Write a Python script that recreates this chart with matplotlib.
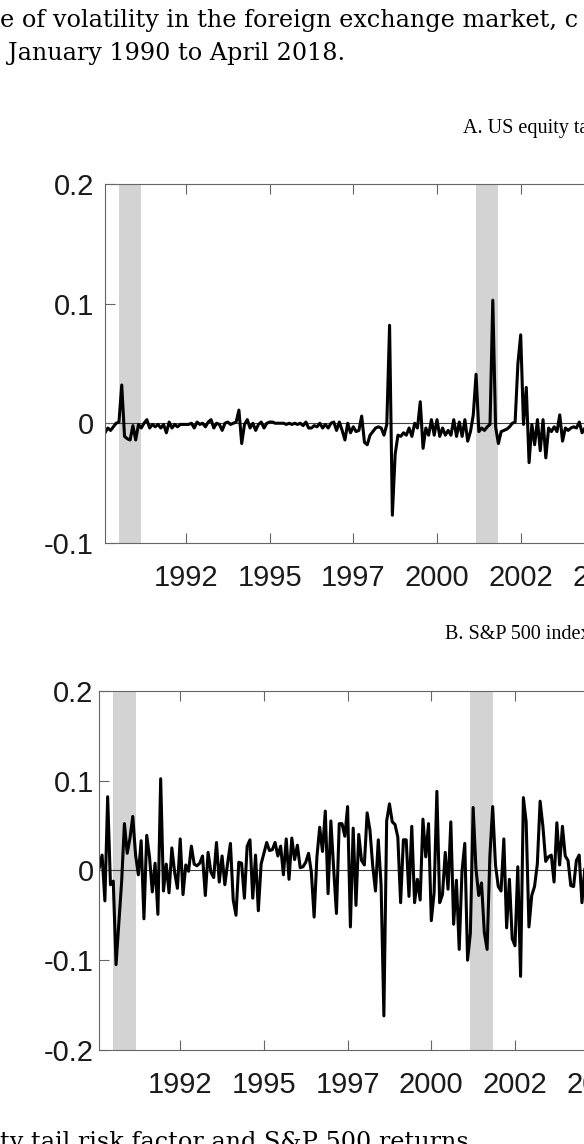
import numpy as np
import matplotlib.pyplot as plt

# monthly values, Feb 1990 onwards (only the part that shows in the crop)
tail_risk = [
    -0.008, -0.004, -0.006, -0.003, 0.000, 0.001, 0.032, -0.011, -0.013, -0.014, -0.002,  # 1990
    -0.014, -0.001, -0.004, 0.000, 0.003, -0.004, -0.001, -0.003, -0.001, -0.004, -0.001, -0.008,  # 1991
    0.001, -0.004, -0.001, -0.003, -0.001, -0.001, -0.001, -0.001, 0.000, -0.004, 0.001, -0.001,  # 1992
    0.000, -0.003, 0.001, 0.003, -0.004, 0.000, -0.001, -0.006, 0.000, 0.001, -0.001, 0.000,  # 1993
    0.001, 0.011, -0.017, -0.001, 0.003, -0.004, 0.000, -0.006, -0.001, 0.001, -0.004, 0.000,  # 1994
    0.001, 0.001, 0.000, 0.000, 0.000, 0.000, -0.001, 0.000, -0.001, 0.000, -0.001, 0.000,  # 1995
    -0.002, 0.001, -0.004, -0.004, -0.002, -0.003, 0.000, -0.004, -0.001, -0.004, 0.000, 0.001,  # 1996
    -0.006, 0.001, -0.006, -0.014, 0.000, -0.008, -0.003, -0.007, -0.006, 0.006, -0.016, -0.018,  # 1997
    -0.010, -0.007, -0.004, -0.003, -0.004, -0.010, -0.001, 0.082, -0.077, -0.026, -0.010, -0.011,  # 1998
    -0.008, -0.010, -0.004, -0.011, 0.000, -0.004, 0.018, -0.021, -0.004, -0.010, 0.003, -0.010,  # 1999
    0.003, -0.011, -0.004, -0.010, -0.006, -0.010, 0.003, -0.011, 0.001, -0.011, 0.003, -0.015,  # 2000
    -0.007, 0.007, 0.041, -0.007, -0.004, -0.006, -0.003, -0.001, 0.103, -0.003, -0.017, -0.007,  # 2001
    -0.006, -0.005, -0.003, 0.000, 0.001, 0.050, 0.074, -0.001, 0.030, -0.033, -0.001, -0.018,  # 2002
    0.003, -0.023, 0.003, -0.029, -0.004, -0.007, -0.003, -0.007, 0.007, -0.015, -0.004, -0.006,  # 2003
    -0.004, -0.003, -0.004, 0.001, -0.008, -0.004, -0.002, -0.003,  # 2004
]

sp500 = [
    0.003, 0.017, -0.034, 0.082, -0.016, -0.012, -0.105, -0.059, -0.013, 0.052, 0.019,  # 1990
    0.036, 0.060, 0.017, -0.005, 0.033, -0.054, 0.039, 0.015, -0.024, 0.008, -0.049, 0.102,  # 1991
    -0.023, 0.007, -0.025, 0.025, -0.002, -0.020, 0.035, -0.027, 0.006, -0.001, 0.027, 0.007,  # 1992
    0.005, 0.008, 0.016, -0.028, 0.020, -0.002, -0.008, 0.031, -0.013, 0.016, -0.016, 0.008,  # 1993
    0.030, -0.033, -0.050, 0.009, 0.008, -0.031, 0.027, 0.034, -0.031, 0.017, -0.045, 0.007,  # 1994
    0.019, 0.031, 0.022, 0.023, 0.031, 0.016, 0.027, -0.005, 0.035, -0.010, 0.036, 0.012,  # 1995
    0.028, 0.003, 0.004, 0.009, 0.019, -0.002, -0.052, 0.015, 0.048, 0.021, 0.066, -0.026,  # 1996
    0.055, 0.002, -0.048, 0.052, 0.052, 0.038, 0.071, -0.063, 0.047, -0.039, 0.040, 0.011,  # 1997
    0.006, 0.064, 0.045, 0.005, -0.023, 0.034, -0.016, -0.162, 0.055, 0.074, 0.054, 0.051,  # 1998
    0.037, -0.036, 0.034, 0.034, -0.029, 0.049, -0.036, -0.010, -0.033, 0.057, 0.015, 0.052,  # 1999
    -0.056, -0.025, 0.088, -0.036, -0.027, 0.020, -0.021, 0.054, -0.060, -0.011, -0.088, -0.001,  # 2000
    0.030, -0.100, -0.070, 0.070, 0.002, -0.028, -0.014, -0.069, -0.088, 0.016, 0.071, 0.006,  # 2001
    -0.018, -0.023, 0.035, -0.064, -0.010, -0.076, -0.084, 0.004, -0.118, 0.081, 0.054, -0.063,  # 2002
    -0.028, -0.018, 0.007, 0.077, 0.049, 0.010, 0.015, 0.017, -0.013, 0.053, 0.006, 0.049,  # 2003
    0.016, 0.011, -0.017, -0.018, 0.011, 0.017, -0.036, 0.001,  # 2004
]

first_month = 1990 + 1 / 12   # Feb 1990
last_month = 2018.25          # April 2018
recessions = [(1990.5, 1991.167), (2001.167, 2001.833), (2007.917, 2009.5)]

xtick_pos = [1992.5, 1995, 1997.5, 2000, 2002.5, 2005, 2007.5, 2010, 2012.5, 2015, 2017.5]
xtick_lab = ['1992', '1995', '1997', '2000', '2002', '2005', '2007', '2010', '2012', '2015', '2017']

ya_ticks = [-0.1, 0, 0.1, 0.2]
ya_labels = ['-0.1', '0', '0.1', '0.2']
yb_ticks = [-0.2, -0.1, 0, 0.1, 0.2]
yb_labels = ['-0.2', '-0.1', '0', '0.1', '0.2']

W, H = 584, 1144
fig = plt.figure(figsize=(W / 100, H / 100), dpi=100)


def px_axes(left, top, right, bottom):
    return fig.add_axes([left / W, 1 - bottom / H, (right - left) / W, (bottom - top) / H])


def style(ax, series, yticks, ylabels, ylim, ypad):
    x = first_month + np.arange(len(series)) / 12
    for a, b in recessions:
        ax.axvspan(a, b, color='#d3d3d3', lw=0, zorder=0)
    ax.axhline(0, color='0.25', lw=0.8, zorder=1)
    ax.plot(x, series, color='black', lw=2.2, zorder=2)
    ax.set_xlim(first_month, last_month)
    ax.set_ylim(*ylim)
    ax.set_xticks(xtick_pos)
    ax.set_xticklabels(xtick_lab)
    ax.set_yticks(yticks)
    ax.set_yticklabels(ylabels)
    for s in ax.spines.values():
        s.set_color('0.4')
        s.set_linewidth(0.8)
    ax.tick_params(axis='x', direction='in', top=True, length=7, width=0.8,
                   color='0.4', labelsize=21, pad=15)
    ax.tick_params(axis='y', direction='in', right=True, length=7, width=0.8,
                   color='0.4', labelsize=21, pad=ypad)
    for lab in ax.get_xticklabels() + ax.get_yticklabels():
        lab.set_fontfamily('Liberation Sans')
        lab.set_color('#1a1a1a')


axA = px_axes(105, 184.3, 105 + 943, 542.7)
style(axA, tail_risk, ya_ticks, ya_labels, (-0.1, 0.2), 8)

axB = px_axes(99.3, 690.7, 99.3 + 943, 1050)
style(axB, sp500, yb_ticks, yb_labels, (-0.2, 0.2), 4)

serif = 'Liberation Serif'
fig.text(463 / W, 1 - 133 / H, 'A. US equity tail risk factor', family=serif,
         fontsize=14.5, va='baseline')
fig.text(445 / W, 1 - 639 / H, 'B. S&P 500 index excess returns', family=serif,
         fontsize=14.5, va='baseline')

cap = 'DejaVu Serif'
fig.text(0, 1 - 27 / H, 'e of volatility in the foreign exchange market, c', family=cap,
         fontsize=17.2, va='baseline')
fig.text(7.5 / W, 1 - 60 / H, 'January 1990 to April 2018.', family=cap,
         fontsize=17.2, va='baseline')
fig.text(0, 1 - 1149 / H, 'ty tail risk factor and S&P 500 returns', family=cap,
         fontsize=17.2, va='baseline')

fig.savefig('out.png', dpi=100)
